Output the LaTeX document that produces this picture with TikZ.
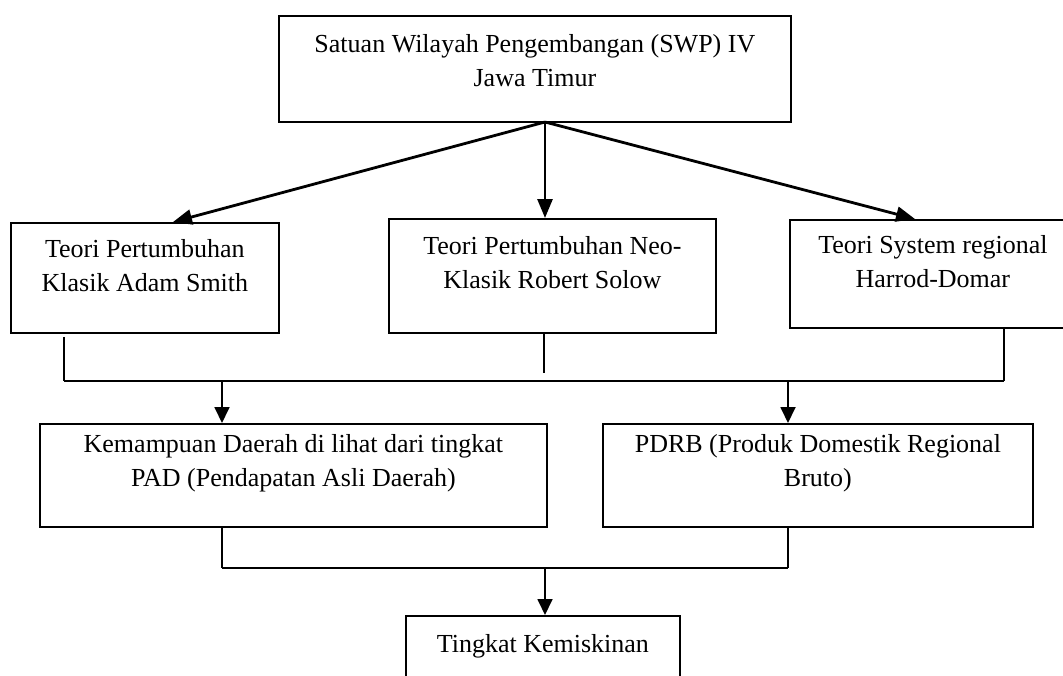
\documentclass[tikz,border=0pt]{standalone}
\usepackage{fontspec}
\setmainfont{Liberation Serif}
\usetikzlibrary{arrows.meta}
\begin{document}
\begin{tikzpicture}[x=1pt,y=-1pt,
  box/.style={draw, line width=1.8pt, inner sep=0pt, anchor=north west},
  txt/.style={inner sep=0pt, align=center, font=\fontsize{26}{34.5}\selectfont},
  arrtop/.style={line width=2.8pt, -{Triangle[length=19pt,width=15pt]}},
  arrlow/.style={line width=1.8pt, -{Triangle[length=16pt,width=15pt]}},
  conn/.style={line width=1.6pt}
]
\useasboundingbox (0,0) rectangle (1063,675);
\clip (0,0) rectangle (1063,675);

% boxes
\node[box, minimum width=512pt, minimum height=106pt] (top) at (278,15) {};
\node[box, minimum width=268pt, minimum height=110pt] (b1) at (10,222) {};
\node[box, minimum width=327pt, minimum height=114pt] (b2) at (388,218) {};
\node[box, minimum width=286pt, minimum height=108pt] (b3) at (789,219) {};
\node[box, minimum width=507pt, minimum height=103pt] (bl) at (39,423) {};
\node[box, minimum width=430pt, minimum height=103pt] (br) at (602,423) {};
\node[box, minimum width=274pt, minimum height=90pt] (bt) at (405,615) {};

% texts
\node[txt, below=19pt] (ttop) at (top.north) {Satuan Wilayah Pengembangan (SWP) IV\\Jawa Timur};
\node[txt, below=17pt] (tb1) at (b1.north) {Teori Pertumbuhan\\Klasik Adam Smith};
\node[txt, below=18pt] (tb2) at (b2.north) {Teori Pertumbuhan Neo-\\Klasik Robert Solow};
\node[txt, below=16pt] (tb3) at (b3.north) {Teori System regional\\Harrod-Domar};
\node[txt, below=11pt] (tbl) at (bl.north) {Kemampuan Daerah di lihat dari tingkat\\PAD (Pendapatan Asli Daerah)};
\node[txt, below=11pt] (tbr) at (br.north) {PDRB (Produk Domestik Regional\\Bruto)};
\node[txt, below=19pt] (tbt) at (bt.north) {Tingkat Kemiskinan};

% arrows from top box
\coordinate (src) at (545,122);
\coordinate (t1) at (173,222);
\coordinate (t2) at (545,218);
\coordinate (t3) at (915,219);
\draw[arrtop] (src) -- (t1);
\draw[arrtop] (src) -- (t2);
\draw[arrtop] (src) -- (t3);

% joining lines below the theory boxes
\coordinate (h1) at (64,381);
\coordinate (h2) at (1004,381);
\coordinate (m1) at (544,373);
\draw[conn] ([yshift=-3pt]b1.south -| h1) -- (h1);
\draw[conn] (b3.south -| h2) -- (h2);
\draw[conn] (b2.south -| m1) -- (m1);
\draw[line width=2pt] (h1) -- (h2);

\coordinate (a1) at (222,381);
\coordinate (a2) at (788,381);
\draw[arrlow] (a1) -- (bl.north -| a1);
\draw[arrlow] (a2) -- (br.north -| a2);

% joining lines below the middle boxes
\coordinate (c1) at (222,568);
\coordinate (c2) at (788,568);
\coordinate (c0) at (545,568);
\draw[conn] (bl.south -| c1) -- (c1);
\draw[conn] (br.south -| c2) -- (c2);
\draw[line width=2pt] (c1) -- (c2);
\draw[arrlow] (c0) -- (bt.north -| c0);
\end{tikzpicture}
\end{document}
